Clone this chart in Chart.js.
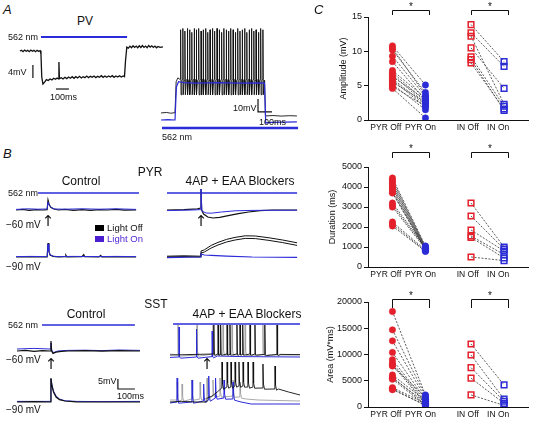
<!DOCTYPE html>
<html>
<head>
<meta charset="utf-8">
<script src="https://cdn.jsdelivr.net/npm/chart.js@4"></script>
<style>
body{margin:0;width:534px;height:424px;position:relative;background:#fff;font-family:"Liberation Sans",Arial,sans-serif;overflow:hidden}
canvas{position:absolute}
.t{position:absolute;white-space:nowrap;color:#111;line-height:1}
.sq{position:absolute}
</style>
</head>
<body>
<script>
// ---- panel C values ----
const xLabels = ['PYR Off', 'PYR On', 'IN Off', 'IN On'];
const xTickPos = [-0.2, 0.85, 2.28, 3.2];
const IN_X = 2.38;

const ampPyrOff = [10.8, 10.5, 10.2, 9.3, 8.5, 7.2, 6.9, 6.6, 6.3, 6.0, 5.8, 5.5, 5.2, 4.9, 4.6];
const ampPyrOn = [5.1, 3.6, 4.0, 3.4, 2.9, 3.2, 2.7, 2.4, 3.0, 2.2, 1.9, 2.6, 1.5, 2.0, 0.3];
const ampInOff = [13.9, 12.7, 12.2, 10.5, 9.2, 8.8, 8.3];
const ampInOn = [8.5, 7.8, 2.3, 4.6, 2.0, 1.4, 1.6];

const durPyrOff = [4450, 4350, 4250, 4150, 4050, 3950, 3850, 3750, 3700, 3200, 3100, 3000, 2250, 2150, 2050];
const durPyrOn = [1050, 1000, 980, 950, 920, 900, 880, 860, 850, 1000, 950, 900, 850, 800, 780];
const durInOff = [3200, 2550, 1850, 1550, 1480, 500];
const durInOn = [1000, 900, 800, 620, 450, 320];

const areaPyrOff = [18200, 14700, 12600, 10400, 9000, 8400, 8000, 7800, 6100, 5700, 5500, 5300, 3700, 3500, 3300];
const areaPyrOn = [2300, 2100, 1700, 1400, 1100, 800, 600, 1900, 1200, 500, 900, 300, 700, 250, 400];
const areaInOff = [12000, 9900, 7500, 5500, 2300];
const areaInOn = [4200, 1500, 1100, 700, 300];

// ---- traces: [time ms, mV] ----
const pvTrace = [[-162,0],[-150,0.2],[-138,-0.2],[-126,0.3],[-114,-0.1],[-102,0.2],[-90,-0.2],[-78,0.3],[-66,-0.1],[-54,0.2],[-42,-0.2],[-30,0.2],[-18,-0.1],[-6,0.1],[0,-1],[6,-8],[15,-10.2],[28,-9.6],[42,-8.8],[56,-9.1],[70,-8.6],[84,-8.9],[98,-8.4],[112,-8.7],[124,-8.3],[134,-8.6],[138,-3.4],[142,-8.5],
  [156,-8.2],[170,-8.6],[184,-8.1],[198,-8.5],[212,-8.0],[226,-8.4],[240,-7.9],[254,-8.4],[268,-7.9],[282,-8.3],[296,-7.8],[310,-8.3],[324,-7.9],[338,-8.2],[352,-7.7],[366,-8.2],[380,-7.8],[394,-8.1],[408,-7.7],[422,-8.2],[436,-7.8],[450,-8.1],[464,-7.6],[478,-8.1],[492,-7.7],[506,-8.1],[520,-7.7],[534,-8.0],[548,-7.6],[562,-8.1],[576,-7.7],[590,-8.0],[604,-7.6],[618,-8.0],[632,-7.7],[642,-7.9],
  [650,-3],[660,1.2],[672,0.9],[684,1.5],[696,1.0],[708,1.6],[720,1.1],[732,1.5],[744,1.0],[756,1.6],[768,1.1],[780,1.7],[792,1.1],[804,1.5],[816,1.0],[828,1.7],[840,1.2],[852,1.6],[864,1.1],[876,1.5],[888,1.0],[900,1.4],[915,1.1],[938,1.3]];

const aSpikeT = [40,56,71,88,104,120,137,152,169,186,201,218,234,250,267,283,300,316,333,349,366,382,398,415,431,448,464,480,497,513,530,546,563,579,596,612,628];
const aSpikePk = [64,65,63,65,64,62,65,64,65,63,64,65,62,64,65,63,65,64,62,65,64,63,65,64,62,65,63,64,65,62,64,65,63,64,62,65,64];
const aBlackPre = [[-100,0],[-60,0.4],[-30,-0.2],[-2,0.2],[0,0],[8,24],[20,27],[33,26]];
const aBlackPost = [[640,24],[646,-2.3],[700,-2],[760,-2.4],[820,-2.1],[871,-2.3]];
const aBlue = [[-100,-5.4],[-50,-5.2],[-2,-5.4],[0,-5.4],[10,20],[25,24],[60,23.3],[150,23],[300,23.3],[450,23],[600,23.2],[640,23],[648,-7.7],[690,-7.2],[871,-6.9]];

const pyrC60Off = [[-188,0],[-150,0.3],[-110,-0.2],[-70,0.2],[-30,0],[-5,0.2],[0,5],[6,3],[15,1.5],[30,0.6],[60,0],[100,0.3],[150,-0.2],[200,0.2],[250,-0.2],[300,0.2],[350,0],[400,0.3],[450,-0.1],[518,0.1]];
const pyrC60On = [[-188,0.3],[-120,0.6],[-60,0.4],[-5,0.5],[0,4],[8,2.2],[20,1.2],[40,0.5],[100,0.4],[200,0.6],[300,0.4],[400,0.6],[518,0.3]];
const pyrC90Off = [[-188,0],[-100,0.2],[-5,0],[0,7],[5,3],[12,1],[30,0.3],[60,0.1],[100,0.2],[105,0.9],[110,0.1],[200,0.2],[210,1.2],[215,0.2],[300,0],[310,0.8],[316,0.1],[400,0.2],[518,0]];
const pyrC90On = [[-188,0.2],[-100,0.3],[-5,0.2],[0,6.5],[5,3],[12,1.2],[30,0.4],[60,0.2],[150,0.3],[300,0.2],[400,0.3],[518,0.2]];
const pyrE60Off = [[-200,0],[-100,0.2],[-20,0.6],[-3,1],[0,10.5],[4,0],[15,-2],[40,-3.5],[70,-4],[110,-3.7],[160,-2.8],[220,-1.8],[280,-1],[347,-0.3],[420,0],[565,0]];
const pyrE60On = [[-200,-0.3],[-50,0],[-3,0.2],[0,10.5],[5,-0.5],[30,-1.5],[60,-1.6],[120,-1],[200,-0.4],[300,-0.2],[565,-0.1]];
const pyrE90OffA = [[-200,0],[-100,0.2],[-3,0],[0,2],[20,2.5],[60,4.5],[100,6],[150,7.5],[200,8.5],[260,9.3],[320,9.2],[400,8.3],[480,7.2],[565,5.8]];
const pyrE90OffB = [[-200,0.4],[-100,0.6],[-3,0.4],[0,3],[20,3.6],[60,5.8],[100,7.3],[150,8.8],[200,9.8],[260,10.6],[320,10.5],[400,9.6],[480,8.5],[565,7.1]];
const pyrE90On = [[-200,-0.3],[-3,0],[0,1.5],[20,1],[60,0.8],[150,0.4],[300,0],[565,-0.2]];

const sstC60Off = [[-200,0],[-150,0.3],[-100,-0.2],[-50,0.2],[-5,0],[0,5],[4,0],[12,-1.2],[30,-0.6],[60,-0.2],[100,0],[200,0.2],[300,-0.1],[400,0.2],[524,0]];
const sstC60On = [[-200,1],[-100,1.3],[-5,1],[0,4],[4,0.5],[15,-0.8],[40,0],[100,0.3],[200,0.4],[300,0.2],[400,0.5],[524,0.3]];
const sstC90Off = [[-200,0],[-100,0.2],[-3,0],[0,12],[6,8],[15,5],[30,2.5],[50,1.2],[82,0.5],[150,0.1],[300,0],[524,0]];
const sstC90On = [[-200,0.3],[-3,0.3],[0,11.5],[6,8.5],[15,5.5],[30,3],[50,1.5],[82,0.6],[150,0.3],[300,0.2],[524,0.3]];
// spikes: [time, baseline, peak]
const sstE60Gray = [[-171,0,15],[-59,0,15],[35,0.5,15],[94,0.5,15],[147,0.5,15],[224,0.3,15],[329,0.2,15]];
const sstE60Black = [[40,0.5,15],[65,0.5,15],[80,0.5,15],[118,0.5,15],[135,0.5,15],[176,0.5,15],[194,0.5,15],[210,0.5,15],[253,0.5,15],[282,0.5,15],[340,0.3,15],[412,0.3,15]];
const sstE60Blue = [[-165,-1,14],[-62,-1,13],[30,-0.8,12]];
const sstE90Black = [[88,7,20],[118,7.5,20],[141,7.5,20],[165,8,20],[188,8,20],[212,8,20],[241,7.5,20],[271,7.5,20],[329,7,19],[400,6.5,18]];
const sstE90Gray = [[-176,1,10],[-147,1,9],[-88,1.5,11],[-41,1.5,10],[0,2,12],[35,3,11],[76,3,12],[153,3,11],[194,2.5,10]];
const sstE90Blue = [[-176,0,12],[-88,0,11],[-20,0.5,9],[10,1,13],[50,2,12],[100,2,11],[153,1.5,10]];

const BLUE = '#2b2bd9', GRAY = '#a0a0a0', RED = '#e3202b', CBLUE = '#2c2cd6', INK = '#111';
Chart.defaults.font.family = '"Liberation Sans", Arial, sans-serif';
Chart.defaults.color = INK;
Chart.defaults.animation = false;

function addCanvas(x, y, w, h) {
  const c = document.createElement('canvas');
  c.width = w; c.height = h;
  c.style.left = x + 'px'; c.style.top = y + 'px';
  c.style.width = w + 'px'; c.style.height = h + 'px';
  document.body.appendChild(c);
  return c;
}
function txt(s, x, y, size, o = {}) {
  const d = document.createElement('div');
  d.className = 't'; d.textContent = s;
  d.style.left = x + 'px'; d.style.top = y + 'px'; d.style.fontSize = size + 'px';
  d.style.transform = o.c ? 'translate(-50%,-50%)' : 'translateY(-50%)';
  if (o.color) d.style.color = o.color;
  if (o.i) d.style.fontStyle = 'italic';
  if (o.f) d.style.fontFamily = o.f;
  document.body.appendChild(d);
}
function sq(x, y, w, h, color) {
  const d = document.createElement('div');
  d.className = 'sq';
  Object.assign(d.style, {left: x + 'px', top: y + 'px', width: w + 'px', height: h + 'px', background: color});
  document.body.appendChild(d);
}

const xy = arr => arr.map(p => ({x: p[0], y: p[1]}));
function line(points, color, width) {
  return {data: xy(points), borderColor: color, borderWidth: width || 1, showLine: true, pointRadius: 0, tension: 0, clip: 6};
}
function spikes(list, trough) {
  const out = [];
  list.forEach(([t, b, p]) => {
    out.push([t - 1, b], [t, p], [t + 3, trough === undefined ? b + 2 : trough], [t + 9, b - 0.6]);
  });
  return out;
}
function trace(box, xr, yr, sets) {
  new Chart(addCanvas(...box), {
    type: 'scatter',
    data: {datasets: sets},
    options: {
      responsive: false, devicePixelRatio: 1, events: [],
      layout: {padding: 0},
      plugins: {legend: {display: false}, tooltip: {enabled: false}},
      scales: {
        x: {type: 'linear', display: false, min: xr[0], max: xr[1]},
        y: {type: 'linear', display: false, min: yr[0], max: yr[1]}
      }
    }
  });
}

// ---------- panel A ----------
trace([0, 30, 170, 70], [-315, 992], [-15.08, 6.46], [
  line(pvTrace, INK, 1.3),
  line([[0, 4.3], [662, 4.3]], BLUE, 2),
  line([[-62, -4.3], [-62, -8.3]], INK, 1.2),
  line([[115, -11.7], [215, -11.7]], INK, 1.2)
]);
const aBlack = aBlackPre.concat(aSpikeT.flatMap((t, i) => [[t - 1, 26], [t, aSpikePk[i]], [t + 3, 14], [t + 9, 25]]), aBlackPost);
trace([155, 10, 145, 130], [-143, 893], [-20.8, 79.2], [
  line(aBlue, BLUE, 1.2),
  line(aBlack, INK, 0.9),
  line([[-93, -11.5], [879, -11.5]], BLUE, 2.5),
  line([[593, 10.8], [593, 0.8], [693, 0.8]], INK, 1.2)
]);

// ---------- panel B, PYR ----------
trace([10, 185, 130, 40], [-223.5, 541], [-7.5, 12.5], [
  line(pyrC60On, BLUE, 1), line(pyrC60Off, INK, 1.2),
  line([[-59, 8.5], [535, 8.5]], BLUE, 1.5)
]);
trace([10, 235, 130, 30], [-223.5, 541], [-4, 11], [
  line(pyrC90On, BLUE, 1), line(pyrC90Off, INK, 1.2)
]);
trace([160, 185, 140, 40], [-241, 582], [-7.5, 12.5], [
  line(pyrE60On, BLUE, 1), line(pyrE60Off, INK, 1.2),
  line([[-200, 8.5], [565, 8.5]], BLUE, 1.5)
]);
trace([160, 235, 140, 30], [-241, 582], [-4, 11], [
  line(pyrE90On, BLUE, 1.2), line(pyrE90OffA, INK, 1), line(pyrE90OffB, INK, 1)
]);

// ---------- panel B, SST ----------
trace([10, 320, 130, 45], [-241, 524], [-7, 15.5], [
  line(sstC60Off, INK, 1.2), line(sstC60On, BLUE, 1),
  line([[-53, 13], [494, 13]], BLUE, 1.5)
]);
trace([10, 372, 130, 35], [-241, 524], [-2.5, 15], [
  line(sstC90Off, INK, 1.2), line(sstC90On, BLUE, 1),
  line([[394, 11.5], [394, 6.5], [494, 6.5]], INK, 1.2)
]);
trace([170, 318, 130, 45], [-218, 547], [-4, 18.5], [
  line([[-218, 0]].concat(spikes(sstE60Black, 0), [[430, 0.3], [547, 0.2]]), INK, 0.9),
  line([[-218, -1.2]].concat(spikes(sstE60Blue, -1), [[60, -0.5], [200, -0.8], [547, -1]]), BLUE, 1),
  line([[-218, 0.5]].concat(spikes(sstE60Gray), [[360, 0], [547, 0]]), GRAY, 0.9),
  line([[-200, 15.5], [547, 15.5]], BLUE, 1.5)
]);
trace([170, 360, 130, 50], [-218, 547], [-4, 21], [
  line([[-218, 0], [-150, 0.3], [-60, 0], [-1, 0], [0, 2], [30, 3], [60, 5], [80, 6.5]].concat(spikes(sstE90Black), [[420, 6.5], [480, 5], [547, 3.5]]), INK, 0.9),
  line([[-218, -0.5]].concat(spikes(sstE90Blue), [[200, 0], [260, -1], [547, -1]]), BLUE, 1),
  line([[-218, 1]].concat(spikes(sstE90Gray), [[230, 1.5], [300, 1], [547, 0.5]]), GRAY, 0.9)
]);

// ---------- panel C ----------
const bracket = {
  id: 'bracket',
  afterDraw(chart, args, opts) {
    const {ctx, chartArea: a, scales: {x}} = chart;
    ctx.save();
    ctx.strokeStyle = INK; ctx.fillStyle = INK; ctx.lineWidth = 1;
    ctx.font = '10px "Liberation Sans", Arial';
    ctx.textAlign = 'center';
    [[0, 1], [IN_X, IN_X + 1]].forEach(([p, q]) => {
      const x1 = Math.round(x.getPixelForValue(p)) + 0.5;
      const x2 = Math.round(x.getPixelForValue(q) + 4) + 0.5;
      const yt = Math.round(a.top + opts.top) + 0.5, yb = a.top + opts.bottom;
      ctx.beginPath();
      ctx.moveTo(x1, yb); ctx.lineTo(x1, yt); ctx.lineTo(x2, yt); ctx.lineTo(x2, yb);
      ctx.stroke();
      ctx.fillText('*', (x1 + x2) / 2, yt - 1);
    });
    ctx.restore();
  }
};

function pairChart(box, o) {
  const pairs = [];
  o.pyrOff.forEach((v, i) => pairs.push({x: 0, y: v}, {x: 1, y: o.pyrOn[i]}, {x: 0.5, y: null}));
  o.inOff.forEach((v, i) => pairs.push({x: IN_X, y: v}, {x: IN_X + 1, y: o.inOn[i]}, {x: IN_X + 0.5, y: null}));
  const pts = (vals, pos) => vals.map(v => ({x: pos, y: v}));
  new Chart(addCanvas(...box), {
    type: 'scatter',
    data: {
      datasets: [
        {data: pts(o.pyrOff, 0), pointStyle: 'circle', pointRadius: 3.2, backgroundColor: RED, borderColor: RED, borderWidth: 0.5, order: 0},
        {data: pts(o.pyrOn, 1), pointStyle: 'circle', pointRadius: 3.2, backgroundColor: CBLUE, borderColor: CBLUE, borderWidth: 0.5, order: 0},
        {data: pts(o.inOff, IN_X), pointStyle: 'rect', pointRadius: 4, backgroundColor: 'rgba(255,255,255,0)', borderColor: RED, borderWidth: 1.5, order: 0},
        {data: pts(o.inOn, IN_X + 1), pointStyle: 'rect', pointRadius: 4, backgroundColor: 'rgba(255,255,255,0)', borderColor: CBLUE, borderWidth: 1.5, order: 0},
        {data: pairs, showLine: true, spanGaps: false, pointRadius: 0, borderColor: '#333', borderWidth: 0.8, borderDash: [2, 1.5], order: 1}
      ]
    },
    options: {
      responsive: false, devicePixelRatio: 1, events: [],
      layout: {padding: {top: o.padTop, right: 1, left: 0, bottom: 0}},
      plugins: {legend: {display: false}, tooltip: {enabled: false}, bracket: o.br},
      scales: {
        x: {
          type: 'linear', min: -0.74, max: 4.12,
          afterBuildTicks: s => { s.ticks = xTickPos.map(v => ({value: v})); },
          afterFit: s => { s.height = o.xh; },
          ticks: {callback: (v, i) => xLabels[i], autoSkip: false, maxRotation: 0, font: {size: 8.5}, color: INK, padding: 3},
          grid: {display: false, drawTicks: false},
          border: {display: true, color: INK, width: 1}
        },
        y: {
          type: 'linear', min: 0, max: o.yMax,
          afterFit: s => { s.width = o.yw; },
          ticks: {stepSize: o.step, font: {size: 9}, color: INK, padding: 2, callback: v => String(v)},
          grid: {display: true, drawOnChartArea: false, drawTicks: true, tickLength: 4, color: INK},
          border: {display: true, color: INK, width: 1},
          title: {display: true, text: o.title, font: {size: 9}, color: INK, padding: {top: 0, bottom: 0}}
        }
      }
    },
    plugins: [bracket]
  });
}

pairChart([338, 0, 196, 140], {pyrOff: ampPyrOff, pyrOn: ampPyrOn, inOff: ampInOff, inOn: ampInOn,
  yMax: 15, step: 5, title: 'Amplitude (mV)', padTop: 17, yw: 30, xh: 20, br: {top: -7.5, bottom: -2}});
pairChart([327, 140, 207, 145], {pyrOff: durPyrOff, pyrOn: durPyrOn, inOff: durInOff, inOn: durInOn,
  yMax: 5000, step: 1000, title: 'Duration (ms)', padTop: 27, yw: 41, xh: 18, br: {top: -15, bottom: -9}});
pairChart([325, 280, 209, 144], {pyrOff: areaPyrOff, pyrOn: areaPyrOn, inOff: areaInOff, inOn: areaInOn,
  yMax: 20000, step: 5000, title: 'Area (mV*ms)', padTop: 22, yw: 43, xh: 17, br: {top: -3, bottom: 6}});

// ---------- text ----------
txt('A', 3, 9, 13, {i: true});
txt('B', 3, 153, 13, {i: true});
txt('C', 314, 9, 13, {i: true});
txt('PV', 85, 21, 12, {c: true});
txt('562 nm', 8, 37, 9);
txt('4mV', 8, 72, 9);
txt('100ms', 50, 97, 9);
txt('10mV', 233, 108, 9);
txt('100ms', 259, 122, 9);
txt('562 nm', 162, 137, 9);

txt('PYR', 150, 172, 12, {c: true});
txt('Control', 81, 181, 12, {c: true});
txt('4AP + EAA Blockers', 240, 181, 12, {c: true});
txt('562 nm', 8, 193, 9);
txt('\u221260 mV', 6, 225, 10);
txt('\u221290 mV', 6, 267, 10);
txt('\u2191', 48, 221, 15, {c: true, f: '"DejaVu Sans"'});
txt('\u2191', 201, 221, 15, {c: true, f: '"DejaVu Sans"'});
sq(95, 225, 9, 6, '#000');
txt('Light Off', 107, 228, 9.5);
sq(95, 236, 9, 6, '#4b1fd0');
txt('Light On', 107, 239, 9.5, {color: '#4b1fd0'});

txt('SST', 156, 304, 12, {c: true});
txt('Control', 86, 314, 12, {c: true});
txt('4AP + EAA Blockers', 247, 314, 12, {c: true});
txt('562 nm', 8, 325, 9);
txt('\u221260 mV', 6, 360, 10);
txt('\u221290 mV', 6, 410, 10);
txt('\u2191', 51, 364, 15, {c: true, f: '"DejaVu Sans"'});
txt('\u2191', 207, 364, 15, {c: true, f: '"DejaVu Sans"'});
txt('5mV', 98, 381, 9);
txt('100ms', 117, 396, 9);
</script>
</body>
</html>
